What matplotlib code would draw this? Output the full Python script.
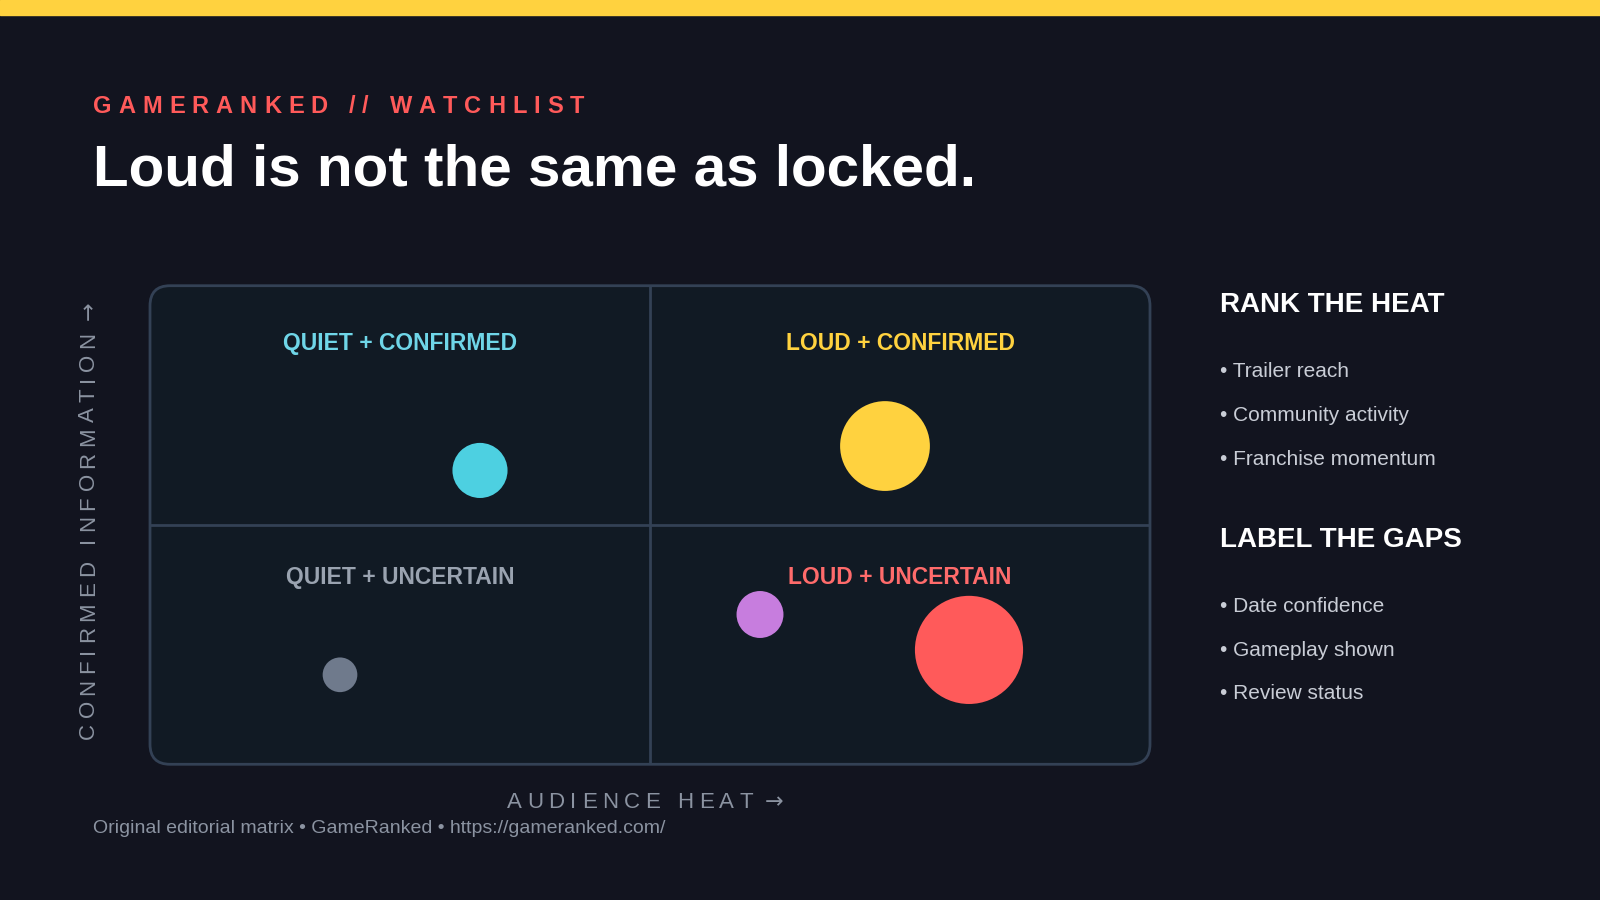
import matplotlib.pyplot as plt
from matplotlib.patches import FancyBboxPatch, Rectangle

plt.rcParams['font.family'] = ['Liberation Sans', 'DejaVu Sans']

# bubble data (x = audience heat, y = confirmed info, radius in px of 1568-wide ref)
heat = [33.0, 73.5, 19.0, 61.0, 81.9]
confirmed = [61.4, 66.5, 18.7, 31.3, 23.9]
radius_px = [27, 44, 17, 23, 53]
colors = ["#4dd0e1", "#ffd23f", "#6f7a8c", "#c77dde", "#ff5a5a"]

quad_labels = ["QUIET + CONFIRMED", "LOUD + CONFIRMED", "QUIET + UNCERTAIN", "LOUD + UNCERTAIN"]
quad_pos = [(25, 88), (75, 88), (25, 39), (75, 39)]
quad_colors = ["#6fd6e8", "#ffd23f", "#9aa3b0", "#ff6b6b"]

rank_items = ["Trailer reach", "Community activity", "Franchise momentum"]
gap_items = ["Date confidence", "Gameplay shown", "Review status"]

BG = "#12141f"
W, H = 1568, 882
fig = plt.figure(figsize=(16, 9), dpi=100)
fig.patch.set_facecolor(BG)
fig.add_artist(Rectangle((0, 1 - 15 / H), 1, 15 / H, transform=fig.transFigure,
                         color="#ffd23f", zorder=5))


def fx(px):
    return px / W


def fy(py):
    return 1 - py / H


renderer = fig.canvas.get_renderer()


def spaced(x, y, s, spacing, rotation=0, measure=False, **kw):
    # draw text char by char with extra letter spacing (in output pixels)
    cur = 0.0
    fw, fh = fig.bbox.width, fig.bbox.height
    for ch in s:
        if rotation == 0:
            t = fig.text(x + cur / fw, y, ch, va="center", ha="left", **kw)
        else:
            t = fig.text(x, y + cur / fh, ch, va="bottom", ha="center", rotation=90, **kw)
        bb = t.get_window_extent(renderer)
        cur += (bb.width if rotation == 0 else bb.height) + spacing
        if measure:
            t.remove()
    return cur


spaced(fx(91), fy(104), "GAMERANKED // WATCHLIST", 7.0, color="#ff5a5a",
       fontsize=17, fontweight="bold")
fig.text(fx(91), fy(167), "Loud is not the same as locked.", color="white",
         fontsize=42, fontweight="bold", va="center", ha="left")

ax = fig.add_axes([fx(147), fy(749), fx(1127) - fx(147), fy(280) - fy(749)])
ax.set_xlim(0, 100)
ax.set_ylim(0, 100)
ax.axis("off")
ax.add_patch(FancyBboxPatch((0, 0), 100, 100, boxstyle="round,pad=0,rounding_size=2.0",
                            facecolor="#111a24", edgecolor="#334155", linewidth=2,
                            transform=ax.transData, clip_on=False, mutation_aspect=2.1))
ax.plot([50, 50], [0, 100], color="#334155", lw=2)
ax.plot([0, 100], [50, 50], color="#334155", lw=2)

scale = 1600 / W * 0.72
sizes = [(2 * r * scale) ** 2 for r in radius_px]
ax.scatter(heat, confirmed, s=sizes, c=colors, edgecolors="none", zorder=3)

for lab, (qx, qy), c in zip(quad_labels, quad_pos, quad_colors):
    ax.text(qx, qy, lab, color=c, fontsize=16.5, fontweight="bold", ha="center", va="center")

# axis labels (arrow from DejaVu, which draws a longer arrow)
xl = "AUDIENCE HEAT"
wlen = spaced(0.5, 0.5, xl, 5.5, measure=True, fontsize=16)
x0 = fx(620) - wlen / 2 / 1600
spaced(x0, fy(786), xl, 5.5, color="#8b93a1", fontsize=16)
fig.text(x0 + (wlen + 6) / 1600, fy(786), "\u2192", color="#8b93a1", fontsize=16,
         family="DejaVu Sans", va="center")
yl = "CONFIRMED INFORMATION"
hlen = spaced(fx(87), fy(724), yl, 5.5, rotation=90, color="#8b93a1", fontsize=16)
fig.text(fx(87), fy(724) + (hlen + 6) / 900, "\u2192", color="#8b93a1", fontsize=16,
         family="DejaVu Sans", rotation=90, ha="center", va="bottom")

fig.text(fx(91), fy(812), "Original editorial matrix \u2022 GameRanked \u2022 https://gameranked.com/",
         color="#8b93a1", fontsize=14, va="center")

fig.text(fx(1196), fy(299), "RANK THE HEAT", color="white", fontsize=20, fontweight="bold", va="center")
for i, item in enumerate(rank_items):
    fig.text(fx(1196), fy(364 + 43 * i), "\u2022 " + item, color="#c9cdd6", fontsize=15, va="center")
fig.text(fx(1196), fy(529), "LABEL THE GAPS", color="white", fontsize=20, fontweight="bold", va="center")
for i, item in enumerate(gap_items):
    fig.text(fx(1196), fy(594 + 43 * i), "\u2022 " + item, color="#c9cdd6", fontsize=15, va="center")

fig.savefig("out.png", facecolor=BG)
